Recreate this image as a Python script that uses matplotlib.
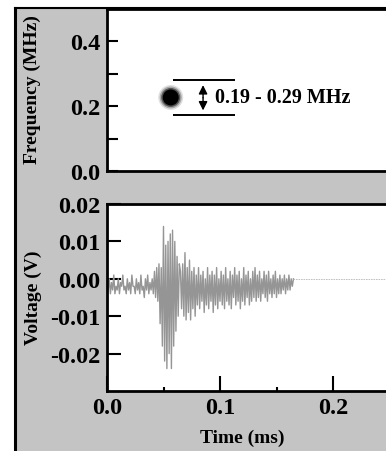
import numpy as np
import matplotlib
matplotlib.use("Agg")
import matplotlib.pyplot as plt
from matplotlib.patches import Rectangle
from matplotlib.lines import Line2D

# ---------------- data ----------------
sample_interval_ms = 0.001
voltage = [
    # 0.000 - 0.045 ms : pre-burst noise
    -0.001, -0.003, 0.000, -0.004, -0.001, -0.003, 0.001, -0.004, -0.002, -0.003,
    0.000, -0.004, -0.001, -0.002, 0.001, -0.003, -0.002, -0.004, 0.000, -0.003,
    -0.001, -0.004, 0.001, -0.002, -0.002, -0.004, 0.000, -0.003, -0.001, -0.004,
    0.001, -0.003, -0.002, -0.005, 0.000, -0.003, 0.001, -0.004, -0.001, -0.003,
    0.000, -0.004, 0.002, -0.005, 0.003, -0.006,
    # 0.046 - 0.064 ms : main burst
    0.004, -0.012, 0.003, -0.018, 0.014, -0.022, 0.009, -0.024, 0.010, -0.020,
    0.012, -0.024, 0.013, -0.018, 0.010, -0.014, 0.006, -0.010, 0.004,
    # 0.065 - 0.080 ms
    0.002, -0.008, 0.004, -0.010, 0.007, -0.011, 0.003, -0.009, 0.005, -0.011,
    0.002, -0.008, 0.003, -0.010, 0.001, -0.007,
    # 0.081 - 0.100 ms
    0.003, -0.008, 0.001, -0.006, 0.002, -0.009, 0.000, -0.007, 0.003, -0.008,
    0.001, -0.006, 0.002, -0.009, 0.001, -0.007, 0.003, -0.008, 0.000, -0.006,
    # 0.101 - 0.130 ms
    0.002, -0.007, 0.001, -0.008, 0.003, -0.006, 0.000, -0.007, 0.002, -0.008,
    0.001, -0.005, 0.003, -0.007, 0.001, -0.006, 0.002, -0.008, 0.000, -0.006,
    0.003, -0.007, 0.001, -0.005, 0.002, -0.007, 0.000, -0.006, 0.002, -0.005,
    # 0.131 - 0.165 ms
    0.003, -0.006, 0.001, -0.005, 0.002, -0.006, 0.000, -0.004, 0.002, -0.005,
    0.001, -0.006, 0.002, -0.004, 0.000, -0.005, 0.001, -0.004, 0.002, -0.005,
    0.000, -0.004, 0.001, -0.004, 0.000, -0.003, 0.001, -0.004, 0.000, -0.003,
    0.001, -0.003, 0.000, -0.002, 0.000,
]
tail_time = [0.165, 0.30]
tail_voltage = [0.0, 0.0]

peak_time = 0.0564
peak_freq = 0.227
band_low = 0.172
band_high = 0.280
band_label = "0.19 - 0.29 MHz"

freq_ticks = [0.0, 0.2, 0.4]
freq_minor = [0.1, 0.3]
volt_ticks = [-0.02, -0.01, 0.00, 0.01, 0.02]
time_ticks = [0.0, 0.1, 0.2]
time_minor = [0.05, 0.15, 0.25]

# ---------------- figure ----------------
W, H = 386, 452
fig = plt.figure(figsize=(W / 100, H / 100), dpi=100, facecolor="white")
font = "Liberation Serif"
plt.rcParams["font.family"] = [font, "DejaVu Serif"]
plt.rcParams["font.weight"] = "bold"

# gray halftone panel with black left/top edges
fig.patches.append(Rectangle((15 / W, 0), 1, (H - 10) / H, transform=fig.transFigure,
                             facecolor="#c4c4c4", edgecolor="none", zorder=-10))
fig.lines.append(Line2D([15 / W, 15 / W], [0, (H - 9) / H], transform=fig.transFigure,
                        color="black", lw=2.2, zorder=-5))
fig.lines.append(Line2D([15 / W, 1], [(H - 9) / H, (H - 9) / H], transform=fig.transFigure,
                        color="black", lw=1.5, zorder=-5))

left = 107 / W
width = (446 - 107) / W
ax1 = fig.add_axes([left, (H - 172) / H, width, (172 - 10) / H])
ax2 = fig.add_axes([left, (H - 392) / H, width, (392 - 205) / H])

for ax in (ax1, ax2):
    ax.set_zorder(1)
    ax.set_facecolor("white")
    ax.set_xlim(0, 0.3)
    for s in ax.spines.values():
        s.set_linewidth(2.0)
        s.set_color("black")

TICK_FS = 17.5

# --- top panel ---
ax1.set_ylim(0, 0.5)
ax1.set_yticks(freq_ticks)
ax1.set_yticks(freq_minor, minor=True)
ax1.set_yticklabels([f"{v:.1f}" for v in freq_ticks])
ax1.set_xticks([])
ax1.tick_params(axis="y", which="major", direction="in", length=8, width=1.5,
                pad=5, labelsize=TICK_FS)
ax1.tick_params(axis="y", which="minor", direction="in", length=8, width=1.5)
for lab in ax1.get_yticklabels():
    lab.set_fontweight("bold")

# blurred dot
for d, a in [(25, 0.12), (22, 0.25), (19, 0.5)]:
    ax1.scatter([peak_time], [peak_freq], s=(d * 0.72) ** 2, color="black", alpha=a,
                edgecolors="none", zorder=3)
ax1.scatter([peak_time], [peak_freq], s=(16 * 0.72) ** 2, color="black",
            edgecolors="none", zorder=4)

x_line0 = 0.058
x_line1 = 0.113
x_arrow = 0.085
band_mid = (band_low + band_high) / 2
ax1.hlines([band_low, band_high], x_line0, x_line1, color="black", lw=1.4, zorder=5)
ax1.annotate("", xy=(x_arrow, band_high - 0.015), xytext=(x_arrow, band_mid),
             arrowprops=dict(arrowstyle="-|>", color="black", lw=1.0,
                             mutation_scale=13, shrinkA=0, shrinkB=0))
ax1.annotate("", xy=(x_arrow, band_low + 0.015), xytext=(x_arrow, band_mid),
             arrowprops=dict(arrowstyle="-|>", color="black", lw=1.0,
                             mutation_scale=13, shrinkA=0, shrinkB=0))
ax1.text(0.0955, peak_freq, band_label, fontsize=14.5, fontweight="bold",
         va="center", ha="left", family=font)

# --- bottom panel ---
ax2.set_ylim(-0.03, 0.02)
ax2.set_yticks(volt_ticks)
ax2.set_yticklabels([f"{v:.2f}" for v in volt_ticks])
ax2.set_xticks(time_ticks)
ax2.set_xticks(time_minor, minor=True)
ax2.set_xticklabels([f"{v:.1f}" for v in time_ticks])
ax2.tick_params(axis="y", which="major", direction="in", length=10, width=1.5,
                pad=5, labelsize=TICK_FS)
ax2.tick_params(axis="x", which="major", direction="in", length=11, width=1.5,
                pad=4, labelsize=TICK_FS)
ax2.tick_params(axis="x", which="minor", direction="in", length=3, width=1.5)
for lab in ax2.get_yticklabels() + ax2.get_xticklabels():
    lab.set_fontweight("bold")

t = np.arange(len(voltage)) * sample_interval_ms
ax2.plot(t, voltage, color="#959595", lw=1.0, zorder=2)
ax2.plot(tail_time, tail_voltage, color="#b8b8b8", lw=0.6, ls=(0, (2, 1)), zorder=2)

# axis labels
fig.text(32 / W, (H - 90) / H, "Frequency (MHz)", rotation=90, fontsize=14,
         fontweight="bold", ha="center", va="center", family=font, zorder=2)
fig.text(33 / W, (H - 298) / H, "Voltage (V)", rotation=90, fontsize=14,
         fontweight="bold", ha="center", va="center", family=font, zorder=2)
fig.text(242 / W, (H - 438) / H, "Time (ms)", fontsize=14,
         fontweight="bold", ha="center", va="center", family=font, zorder=2)

fig.savefig("out.png", dpi=100, facecolor=fig.get_facecolor())
